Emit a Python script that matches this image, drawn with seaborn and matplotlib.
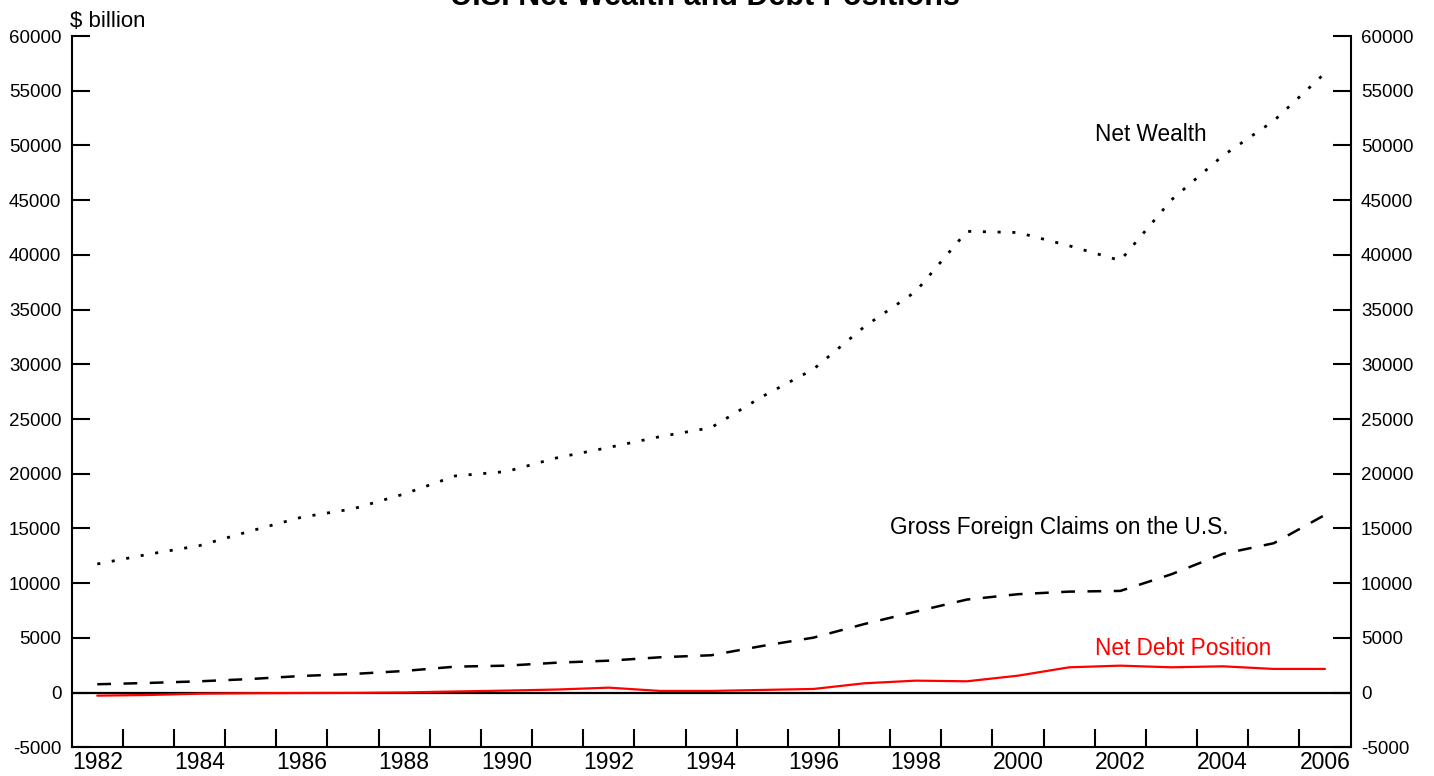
import pandas as pd
import matplotlib.pyplot as plt
import seaborn as sns
from matplotlib.ticker import FixedLocator, MultipleLocator

# annual data, $ billion
years = list(range(1982, 2007))
net_wealth = [11750, 12640, 13430, 14770, 16030, 16790, 18150, 19800, 20200, 21470,
              22400, 23390, 24210, 27050, 29550, 33450, 36650, 42150, 42040, 40830,
              39480, 45030, 49050, 52250, 56610]
gross_claims = [760, 880, 1030, 1240, 1520, 1700, 1975, 2370, 2460, 2735,
                2915, 3225, 3410, 4260, 5020, 6270, 7400, 8500, 8990, 9225,
                9290, 10815, 12670, 13650, 16235]
net_debt = [-280, -220, -100, -60, -40, -30, 10, 100, 180, 280,
            450, 150, 150, 240, 330, 850, 1090, 1030, 1545, 2310,
            2460, 2310, 2400, 2160, 2160]

label_years = years[::2]

df = pd.DataFrame({'year': years, 'Net Wealth': net_wealth,
                   'Gross Foreign Claims': gross_claims, 'Net Debt': net_debt})

sns.set_theme(style="white")
plt.rcParams['font.family'] = ['Liberation Sans', 'DejaVu Sans']
plt.rcParams['axes.unicode_minus'] = False
plt.rcParams['text.color'] = 'black'

fig = plt.figure(figsize=(14.34, 7.76), dpi=100)
ax = fig.add_axes([0.05, 0.037, 0.8918, 0.9166])

ax.axhline(0, color='black', lw=1.6, zorder=1)
sns.lineplot(data=df, x='year', y='Net Wealth', ax=ax, color='black', lw=2,
             linestyle=(0, (1.1, 4.2)))
sns.lineplot(data=df, x='year', y='Gross Foreign Claims', ax=ax, color='black', lw=1.8,
             linestyle=(0, (5.5, 5.0)))
sns.lineplot(data=df, x='year', y='Net Debt', ax=ax, color='red', lw=1.6)

ax.set_xlim(1981.5, 2006.5)
ax.set_ylim(-5000, 60000)
ax.set_xlabel('')
ax.set_ylabel('')

ax.xaxis.set_major_locator(FixedLocator(label_years))
ax.set_xticklabels([str(y) for y in label_years])
ax.xaxis.set_minor_locator(FixedLocator([y + 0.5 for y in years[:-1]]))
ax.yaxis.set_major_locator(MultipleLocator(5000))

ax.tick_params(axis='x', which='major', length=0, labelsize=16.5, pad=3, colors='black')
ax.tick_params(axis='x', which='minor', direction='in', length=13, width=1.5,
               bottom=True, color='black')
ax.tick_params(axis='y', direction='in', length=13, width=1.5, left=True, right=True,
               labelleft=True, labelright=True, labelsize=13.5, pad=7.5, colors='black')

ticks = ax.yaxis.get_major_ticks()
ticks[-1].tick1line.set_markersize(27)
ticks[-1].tick2line.set_markersize(20)

for side in ['left', 'right', 'bottom']:
    ax.spines[side].set_visible(True)
    ax.spines[side].set_color('black')
    ax.spines[side].set_linewidth(1.5)
ax.spines['top'].set_visible(False)

ax.text(2001.5, 50400, 'Net Wealth', fontsize=16.3, color='black', va='baseline')
ax.text(1997.5, 14470, 'Gross Foreign Claims on the U.S.', fontsize=16.3,
        color='black', va='baseline')
ax.text(2001.5, 3440, 'Net Debt Position', fontsize=16.3, color='red', va='baseline')

fig.text(0.0488, 0.9656, '$ billion', fontsize=16, va='baseline', ha='left', color='black')
fig.text(0.4915, 0.9936, 'U.S. Net Wealth and Debt Positions', fontsize=22,
         fontweight='bold', ha='center', va='baseline', color='black')

plt.savefig('out.png', dpi=100)
